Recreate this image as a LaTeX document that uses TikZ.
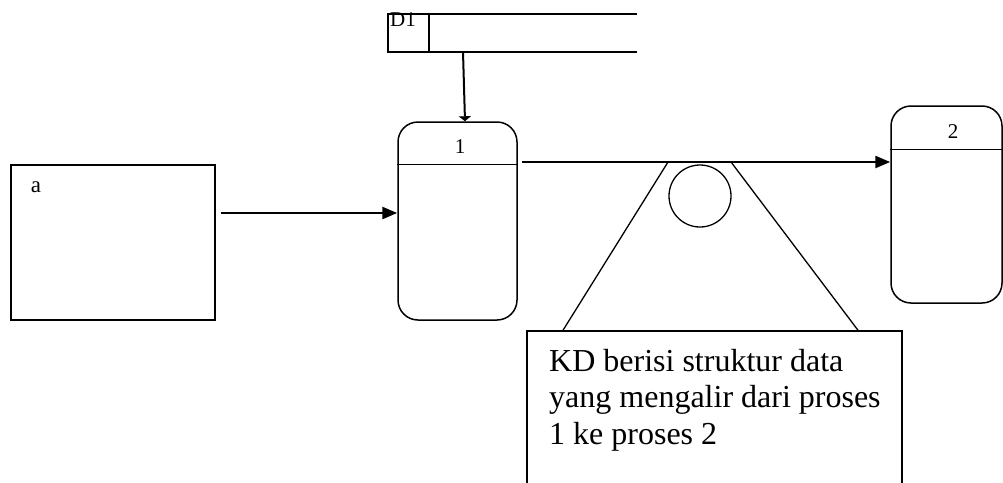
\documentclass[tikz,border=0pt]{standalone}
\usepackage{fontspec}
\setmainfont{Liberation Serif}
\usetikzlibrary{arrows.meta,calc}
\begin{document}
\begin{tikzpicture}[x=1pt,y=-1pt,
  box/.style={draw,line width=1.5pt,inner sep=0pt},
  proc/.style={draw,line width=1.5pt,rounded corners=20pt,inner sep=0pt},
  flow/.style={line width=2.5pt,-{Triangle[length=15pt,width=12pt]}},
  thin/.style={line width=1.3pt},
  lbl/.style={font=\fontsize{21}{24}\selectfont,inner sep=0pt}]
\useasboundingbox (0,0) rectangle (1003,482);
% external entity a
\node[box,minimum width=204,minimum height=155] (a) at (113,242.5) {};
\node[lbl,anchor=base,font=\fontsize{23}{26}\selectfont] (alabel) at (36,192) {a};
% process 1
\node[proc,minimum width=119,minimum height=198] (p1) at (457.5,221) {};
\draw[line width=1.3pt] ($(p1.north west)+(0,43)$) coordinate (p1dl) -- ($(p1.north east)+(0,43)$) coordinate (p1dr);
\node[lbl,anchor=base] (p1label) at (460,153) {1};
% process 2
\node[proc,minimum width=111,minimum height=197] (p2) at (946.5,204.5) {};
\draw[line width=1.3pt] ($(p2.north west)+(0,44)$) coordinate (p2dl) -- ($(p2.north east)+(0,44)$) coordinate (p2dr);
\node[lbl,anchor=base] (p2label) at (953,138) {2};
% data store D1
\node[inner sep=0pt,minimum width=249,minimum height=38] (store) at (512.5,33) {};
\draw[line width=1.5pt] (store.north east) -- (store.north west) -- (store.south west) -- (store.south east);
\draw[line width=1.5pt] ($(store.north west)+(41,0)$) -- ($(store.south west)+(41,0)$);
\node[lbl,anchor=base west] (d1) at (390,26) {D1};
% flows
\coordinate (aout) at ($(a.east)+(5,-29.5)$);
\draw[flow] (aout) -- (aout -| p1.west);
\coordinate (sout) at (463,52);
\draw[line width=2pt,-{Triangle[length=5pt,width=12pt]}] (sout) -- (p1.north -| 465,0);
\coordinate (p1out) at (522,162);
\draw[flow] (p1out) -- (p1out -| p2.west);
% annotation
\node[draw,circle,line width=1.3pt,minimum size=62,inner sep=0pt] (circ) at (700,196) {};
\node[inner sep=0pt,minimum width=375,minimum height=170,draw,line width=1.5pt] (kd) at (714.5,416) {};
\draw[thin] (668,162) coordinate (t1) -- (kd.north west -| 563,0);
\draw[thin] (731,162) coordinate (t2) -- (kd.north west -| 858,0);
\node[anchor=north west,align=left,inner sep=0pt,font=\fontsize{32}{36.5}\selectfont] (kdtext) at (549,349) {KD berisi struktur data\\yang mengalir dari proses\\1 ke proses 2};
\end{tikzpicture}
\end{document}
